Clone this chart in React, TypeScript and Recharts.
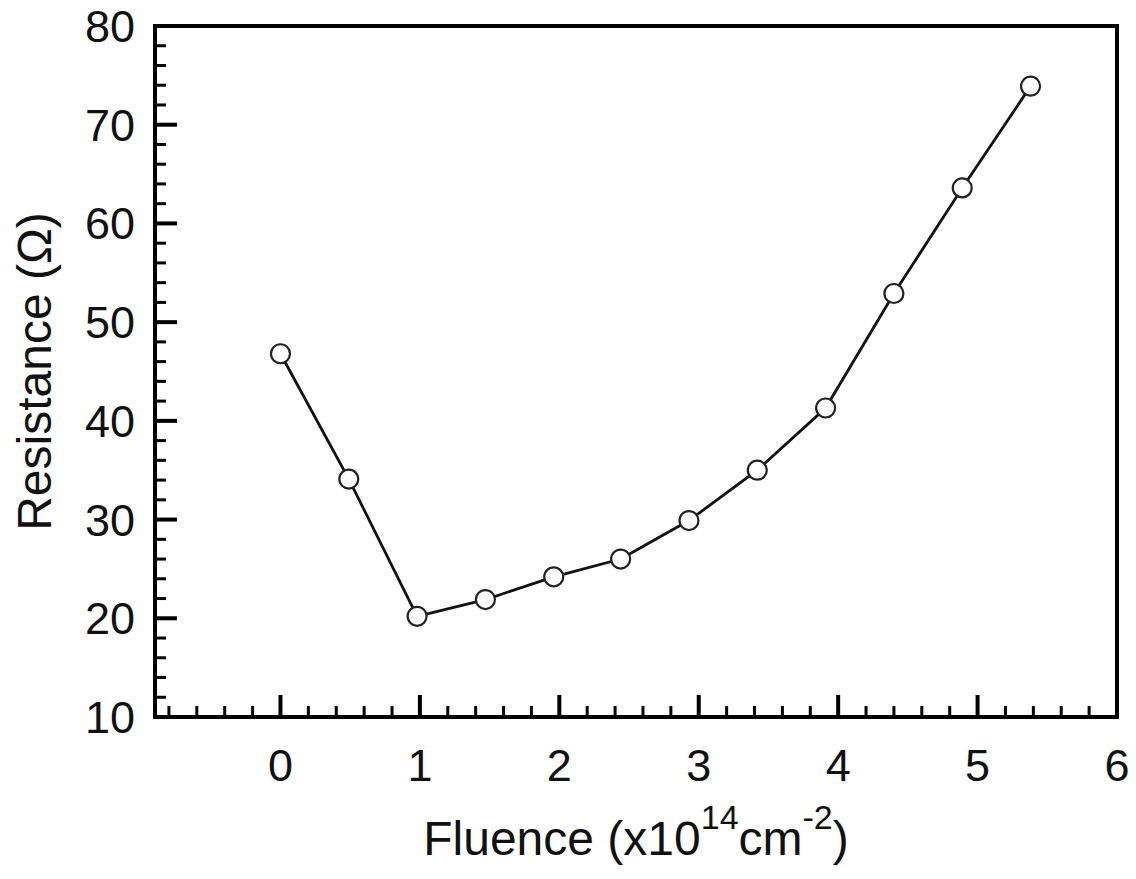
import React from "react";
import {
  LineChart,
  Line,
  XAxis,
  YAxis,
  ReferenceArea,
} from "recharts";

// values
const fluence = [0, 0.49, 0.98, 1.47, 1.96, 2.44, 2.93, 3.42, 3.91, 4.4, 4.89, 5.38];
const resistance = [46.8, 34.1, 20.2, 21.9, 24.2, 26.0, 29.9, 35.0, 41.3, 52.9, 63.6, 73.9];

const xTicks = [
  -0.8, -0.6, -0.4, -0.2, 0, 0.2, 0.4, 0.6, 0.8, 1, 1.2, 1.4, 1.6, 1.8, 2, 2.2, 2.4, 2.6, 2.8,
  3, 3.2, 3.4, 3.6, 3.8, 4, 4.2, 4.4, 4.6, 4.8, 5, 5.2, 5.4, 5.6, 5.8, 6,
];
const yTicks = [
  10, 12, 14, 16, 18, 20, 22, 24, 26, 28, 30, 32, 34, 36, 38, 40, 42, 44, 46, 48, 50, 52, 54,
  56, 58, 60, 62, 64, 66, 68, 70, 72, 74, 76, 78, 80,
];
const xDomain = [-0.9, 6];
const yDomain = [10, 80];

const data = fluence.map((f, i) => ({ fluence: f, resistance: resistance[i] }));

const FONT = '"Liberation Sans", Arial, Helvetica, sans-serif';
const MAJOR = 22;
const MINOR = 11;

const isMajorX = (v: number) => Math.abs(v - Math.round(v)) < 1e-6;
const isMajorY = (v: number) => Math.abs(v / 10 - Math.round(v / 10)) < 1e-6;

const BottomTick = (props: any) => {
  const { x, y, payload } = props;
  const major = isMajorX(payload.value);
  return (
    <g>
      <line x1={x} y1={y} x2={x} y2={y - (major ? MAJOR : MINOR)} stroke="#000" strokeWidth={major ? 4 : 3} />
      {major && (
        <text x={x} y={y + 64} textAnchor="middle" fontSize={45} fontFamily={FONT} fill="#111">
          {Math.round(payload.value)}
        </text>
      )}
    </g>
  );
};

const TopTick = (props: any) => {
  const { x, y, payload } = props;
  const major = isMajorX(payload.value);
  return <line x1={x} y1={y} x2={x} y2={y + (major ? MAJOR : MINOR)} stroke="#000" strokeWidth={major ? 4 : 3} />;
};

const LeftTick = (props: any) => {
  const { x, y, payload } = props;
  const major = isMajorY(payload.value);
  return (
    <g>
      <line x1={x} y1={y} x2={x + (major ? MAJOR : MINOR)} y2={y} stroke="#000" strokeWidth={major ? 4 : 3} />
      {major && (
        <text x={x - 20} y={y + 16} textAnchor="end" fontSize={45} fontFamily={FONT} fill="#111">
          {payload.value}
        </text>
      )}
    </g>
  );
};

const RightTick = (props: any) => {
  const { x, y, payload } = props;
  const major = isMajorY(payload.value);
  return <line x1={x} y1={y} x2={x - (major ? MAJOR : MINOR)} y2={y} stroke="#000" strokeWidth={major ? 4 : 3} />;
};

const YTitle = (props: any) => {
  const { viewBox } = props;
  const cx = 34;
  const cy = viewBox.y + viewBox.height / 2;
  return (
    <text
      x={cx}
      y={cy}
      transform={`rotate(-90 ${cx} ${cy})`}
      textAnchor="middle"
      dominantBaseline="central"
      fontSize={48}
      fontFamily={FONT}
      fill="#111"
    >
      Resistance (Ω)
    </text>
  );
};

const XTitle = (props: any) => {
  const { viewBox } = props;
  const cx = viewBox.x + viewBox.width / 2;
  return (
    <text x={cx} y={855} textAnchor="middle" fontSize={48} fontFamily={FONT} fill="#111">
      Fluence (x10
      <tspan fontSize={34} dy={-26}>14</tspan>
      <tspan dy={26}>cm</tspan>
      <tspan fontSize={34} dy={-26}>-2</tspan>
      <tspan dy={26}>)</tspan>
    </text>
  );
};

export default function App() {
  return (
    <div style={{ position: "absolute", left: 0, top: 0, background: "#fff" }}>
      <LineChart
        width={1136}
        height={879}
        data={data}
        margin={{ top: 26, right: 19, left: 0, bottom: 0 }}
      >
        <XAxis
          dataKey="fluence"
          type="number"
          domain={xDomain}
          ticks={xTicks}
          interval={0}
          allowDataOverflow
          height={162}
          axisLine={false}
          tickLine={false}
          tickSize={0}
          tickMargin={0}
          tick={<BottomTick />}
          label={<XTitle />}
        />
        <XAxis
          xAxisId="top"
          orientation="top"
          type="number"
          domain={xDomain}
          ticks={xTicks}
          interval={0}
          allowDataOverflow
          height={0}
          axisLine={false}
          tickLine={false}
          tickSize={0}
          tickMargin={0}
          tick={<TopTick />}
        />
        <YAxis
          type="number"
          domain={yDomain}
          ticks={yTicks}
          interval={0}
          allowDataOverflow
          width={155}
          axisLine={false}
          tickLine={false}
          tickSize={0}
          tickMargin={0}
          tick={<LeftTick />}
          label={<YTitle />}
        />
        <YAxis
          yAxisId="right"
          orientation="right"
          type="number"
          domain={yDomain}
          ticks={yTicks}
          interval={0}
          allowDataOverflow
          width={0}
          axisLine={false}
          tickLine={false}
          tickSize={0}
          tickMargin={0}
          tick={<RightTick />}
        />
        <ReferenceArea
          x1={xDomain[0]}
          x2={xDomain[1]}
          y1={yDomain[0]}
          y2={yDomain[1]}
          fill="none"
          fillOpacity={0}
          stroke="#000"
          strokeWidth={4}
          ifOverflow="visible"
        />
        <Line
          type="linear"
          dataKey="resistance"
          stroke="#111"
          strokeWidth={2.8}
          dot={{ r: 9.5, fill: "#fff", stroke: "#222", strokeWidth: 2.2 }}
          activeDot={false}
          isAnimationActive={false}
        />
      </LineChart>
    </div>
  );
}
